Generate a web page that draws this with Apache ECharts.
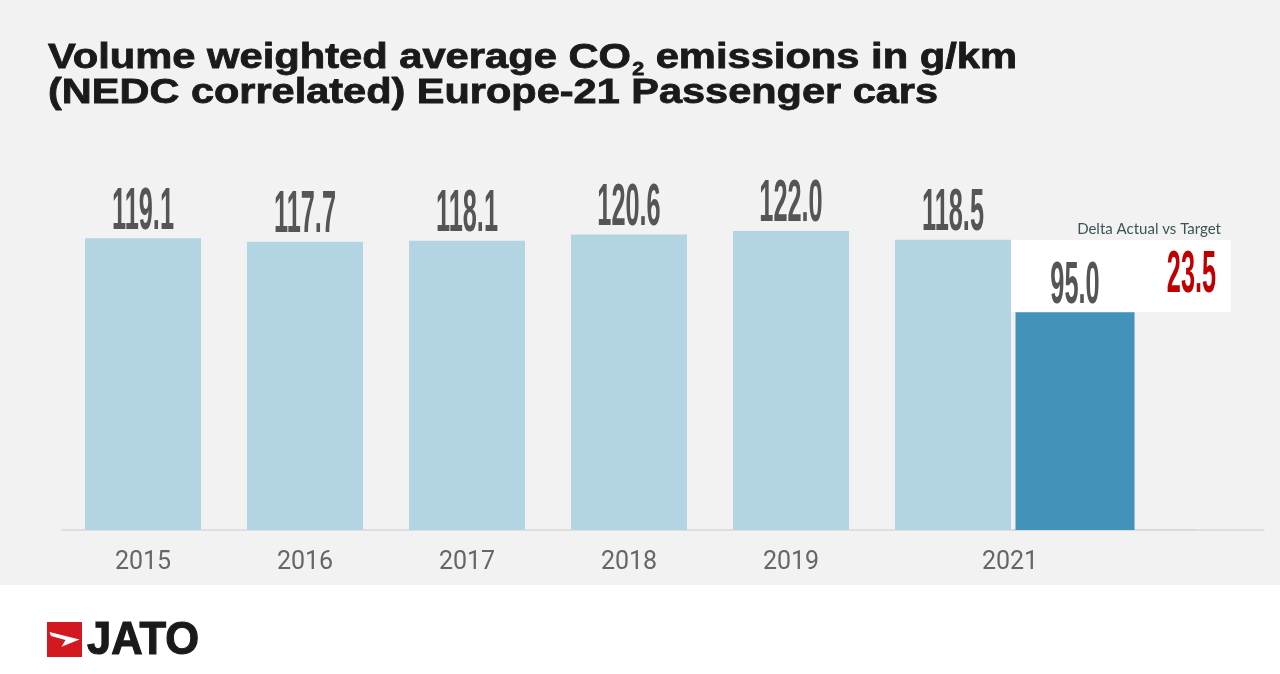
<!DOCTYPE html>
<html><head><meta charset="utf-8">
<script src="https://cdn.jsdelivr.net/npm/echarts@6/dist/echarts.min.js"></script>
<style>html,body{margin:0;padding:0;background:#fff;}#c{width:1280px;height:674px;}</style>
</head><body><div id="c"></div>
<script>
// ---- data ----
const years = ['2015', '2016', '2017', '2018', '2019', '2021', ''];
const actualValues = [119.1, 117.7, 118.1, 120.6, 122.0, 118.5];
const targetCategories = ['2021 target', ''];
const targetValues = [95.0];
const deltaValue = 23.5;
const titleLine1a = 'Volume weighted average CO';
const titleSub = '2';
const titleLine1b = ' emissions in g/km';
const titleLine2 = '(NEDC correlated) Europe-21 Passenger cars';
const deltaCaption = 'Delta Actual vs Target';
const brand = 'JATO';

// ---- styles ----
const NUM_FAMILY = '"Liberation Sans Narrow", "Liberation Sans", Arial, sans-serif';
const TITLE_FAMILY = '"Liberation Sans", Arial, sans-serif';
const mctx = document.createElement('canvas').getContext('2d');
function tw(font, text) { mctx.font = font; return mctx.measureText(text).width; }
const NUM_SIZE = 60;
const numScale = 62 / tw('bold ' + NUM_SIZE + 'px ' + NUM_FAMILY, '118.5');
const MID = 0.345;

const T_SIZE = 35, S_SIZE = 18;
const wA = tw('bold ' + T_SIZE + 'px ' + TITLE_FAMILY, titleLine1a);
const wS = tw('bold ' + S_SIZE + 'px ' + TITLE_FAMILY, titleSub);
const wB = tw('bold ' + T_SIZE + 'px ' + TITLE_FAMILY, titleLine1b);
const s1 = 969 / (wA + wS + 1 + wB);
const s2 = 890 / tw('bold ' + T_SIZE + 'px ' + TITLE_FAMILY, titleLine2);
const jatoScale = 112 / tw('bold 46px ' + TITLE_FAMILY, brand);
const L1 = 70, L2 = 105;

function labelItem(gap, color) {
  return function (params, api) {
    const v = api.value(1);
    const p = api.coord([api.value(0), v]);
    return {
      type: 'text', x: p[0], y: p[1] - gap - MID * NUM_SIZE, scaleX: numScale,
      style: { text: v.toFixed(1), fontSize: NUM_SIZE, fontFamily: NUM_FAMILY, fontWeight: 'bold',
               fill: color, align: 'center', verticalAlign: 'middle' }
    };
  };
}
function titleText(x, base, size, scale, text) {
  return { type: 'text', x: x, y: base - MID * size, scaleX: scale,
    style: { text: text, fontSize: size, fontFamily: TITLE_FAMILY, fontWeight: 'bold',
             fill: '#1a1a1a', stroke: '#1a1a1a', lineWidth: 0.8, align: 'left', verticalAlign: 'middle' } };
}

const chart = echarts.init(document.getElementById('c'), null, { renderer: 'canvas' });
const axisLine = { show: true, lineStyle: { color: '#d9d9d9', width: 1.5 } };
chart.setOption({
  animation: false,
  backgroundColor: '#f2f2f2',
  grid: [
    { left: 62, width: 1134, top: 138, bottom: 144 },
    { left: 1012, right: 16, top: 138, bottom: 144 }
  ],
  xAxis: [
    { type: 'category', gridIndex: 0, data: years, axisLine: axisLine, axisTick: { show: false },
      axisLabel: { margin: 20, fontFamily: 'Roboto', fontSize: 25, color: '#666',
        formatter: v => v === '2021' ? '{s|' + v + '}' : v,
        rich: { s: { fontFamily: 'Roboto', fontSize: 25, color: '#666', padding: [0, 0, 0, 114] } } } },
    { type: 'category', gridIndex: 1, data: targetCategories, axisLine: axisLine, axisTick: { show: false },
      axisLabel: { show: false } }
  ],
  yAxis: [
    { type: 'value', gridIndex: 0, min: 0, max: 160, show: false },
    { type: 'value', gridIndex: 1, min: 0, max: 171, show: false }
  ],
  series: [
    { type: 'bar', xAxisIndex: 0, yAxisIndex: 0, data: actualValues, barWidth: 116,
      itemStyle: { color: '#b3d5e3' } },
    { type: 'bar', xAxisIndex: 1, yAxisIndex: 1, data: targetValues, barWidth: 119,
      itemStyle: { color: '#4392b9' } },
    { type: 'custom', xAxisIndex: 0, yAxisIndex: 0, z: 5,
      data: actualValues.map((v, i) => [i, v]), renderItem: labelItem(5.5, '#555555') },
    { type: 'custom', xAxisIndex: 1, yAxisIndex: 1, z: 5,
      data: targetValues.map((v, i) => [i, v]), renderItem: labelItem(5.5, '#555555') }
  ],
  graphic: [
    { type: 'rect', z: -10, shape: { x: 0, y: 585, width: 1280, height: 89 }, style: { fill: '#ffffff' } },
    { type: 'rect', z: -9, shape: { x: 1011, y: 240, width: 220, height: 72 }, style: { fill: '#ffffff' } },
    titleText(48, L1, T_SIZE, s1, titleLine1a),
    titleText(48 + s1 * (wA + 1), L1 + 6, S_SIZE, s1, titleSub),
    titleText(48 + s1 * (wA + 1 + wS), L1, T_SIZE, s1, titleLine1b),
    titleText(48, L2, T_SIZE, s2, titleLine2),
    { type: 'text', x: 1221, y: 234.5 - 0.387 * 15, z: 6,
      style: { text: deltaCaption, fontSize: 15, fontFamily: 'Lato', fill: '#3b5457',
               align: 'right', verticalAlign: 'middle' } },
    { type: 'text', x: 1191.5, y: 296 - MID * NUM_SIZE, scaleX: numScale, z: 6,
      style: { text: deltaValue.toFixed(1), fontSize: NUM_SIZE, fontFamily: NUM_FAMILY, fontWeight: 'bold',
               fill: '#c00000', align: 'center', verticalAlign: 'middle' } },
    { type: 'rect', z: 1, shape: { x: 47, y: 622, width: 35, height: 35 }, style: { fill: '#d31920' } },
    { type: 'polygon', z: 2, shape: { points: [[49.5, 632], [79.5, 639.5], [61.5, 646.7], [65.5, 640], [51, 636]] },
      style: { fill: '#ffffff' } },
    { type: 'text', x: 87, y: 657 - MID * 46, scaleX: jatoScale,
      style: { text: brand, fontSize: 46, fontFamily: TITLE_FAMILY, fontWeight: 'bold',
               fill: '#1a1a1a', stroke: '#1a1a1a', lineWidth: 1.2, align: 'left', verticalAlign: 'middle' } }
  ]
});
</script></body></html>
